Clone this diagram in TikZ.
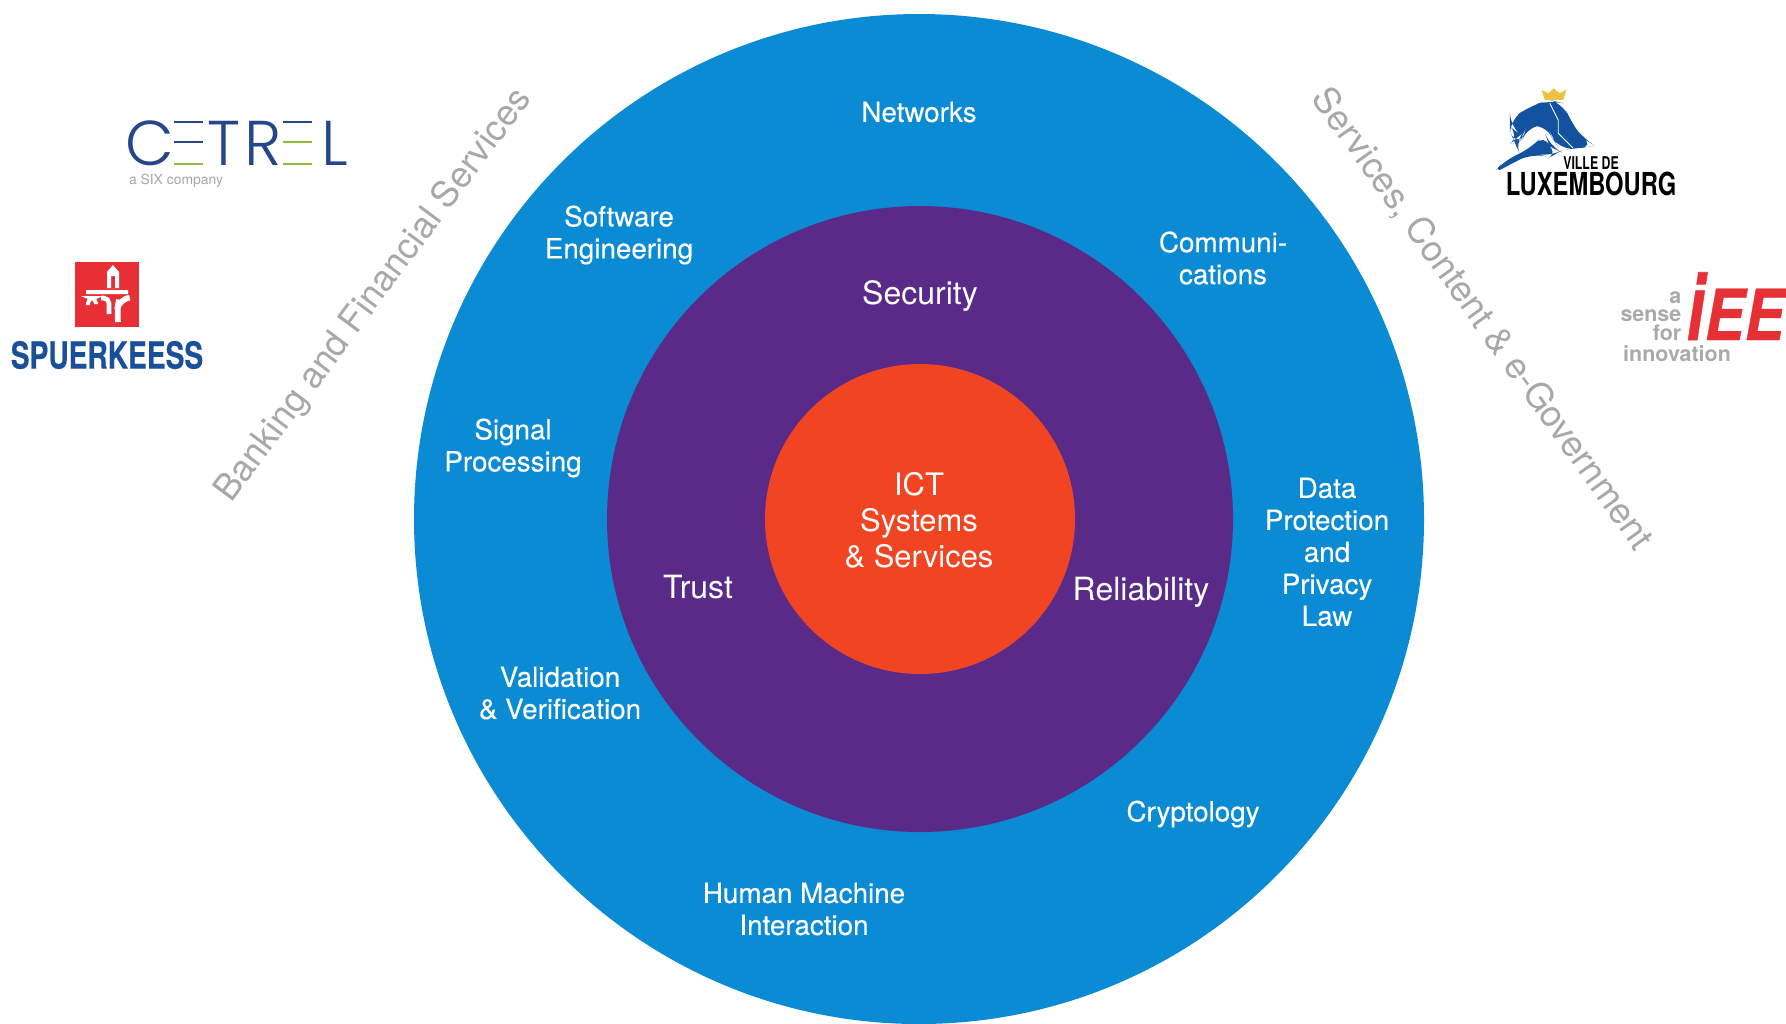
\documentclass[tikz,border=0pt]{standalone}
\usepackage{fontspec}
\setmainfont{TeX Gyre Heros}
\newfontfamily\logofont{Poppins Light}
\definecolor{ringblue}{HTML}{0A8BD4}
\definecolor{ringpurple}{HTML}{5A2A88}
\definecolor{corered}{HTML}{F04423}
\definecolor{sectorgray}{HTML}{A8A8A8}
\definecolor{cetrelblue}{HTML}{24468A}
\definecolor{cetrelgreen}{HTML}{8DBB3C}
\definecolor{logored}{HTML}{E63036}
\definecolor{logogray}{HTML}{A6ACA8}
\definecolor{spkblue}{HTML}{1A4F9C}
\definecolor{villeblue}{HTML}{12529F}
\definecolor{crowngold}{HTML}{F0C040}
\tikzset{
    topic/.style={text=white,align=center,font=\fontsize{7.9}{9.1}\selectfont\addfontfeatures{FakeBold=0.25}},
    pillar/.style={text=white,align=center,font=\fontsize{9.1}{10.3}\selectfont},
    sector/.style={text=sectorgray,font=\fontsize{10.25}{11}\selectfont},
    logotext/.style={inner sep=0pt,align=center},
    cetrelltr/.style={logotext,text=cetrelblue,font=\fontsize{18}{18}\logofont},
    cetrelbar/.style={line width=0.7pt}
}
\begin{document}
\begin{tikzpicture}[x=0.01cm,y=-0.01cm]
    \useasboundingbox (0,0) rectangle (1786,1023);
    \fill[ringblue] (919,519) circle[radius=505];
    \fill[ringpurple] (920,519) circle[radius=313];
    \fill[corered] (920,519) circle[radius=155];

    \node[pillar,font=\fontsize{8.8}{10.3}\selectfont] at (919,520) (CORE) {ICT\\Systems\\\& Services};
    \node[pillar] at (920,296) (SEC) {Security};
    \node[pillar] at (698,587) (TRUST) {Trust};
    \node[pillar] at (1141,592) (REL) {Reliability};

    \node[topic] at (919,112) (NET) {Networks};
    \node[topic] at (619,235) (SOFT) {Software\\Engineering};
    \node[topic] at (1223,258) (COMM) {Communi-\\cations};
    \node[topic] at (513,448) (SIG) {Signal\\Processing};
    \node[topic] at (1327,552) (DATA) {Data\\Protection\\and\\Privacy\\Law};
    \node[topic] at (560,693) (VAL) {Validation\\\& Verification};
    \node[topic] at (1193,814) (CRYPT) {Cryptology};
    \node[topic] at (804,909) (HMI) {Human Machine\\Interaction};

    \node[sector,rotate=53.4] at (374,296) (BANK) {Banking and Financial Services};
    \node[sector,rotate=-54.4] at (1482,319) (GOV) {Services, Content \& e-Government};

    % Cetrel
    \node[cetrelltr] at (150,143) (CETC) {C};
    \node[cetrelltr] at (224,143) (CETT) {T};
    \node[cetrelltr] at (263,143) (CETR) {R};
    \node[cetrelltr] at (335,143) (CETL) {L};
    \draw[cetrelbar,cetrelblue] (174,122) -- (203,122) (174,142) -- (203,142) (283,122) -- (312,122);
    \draw[cetrelbar,cetrelgreen] (174,164) -- (203,164) (283,142) -- (312,142) (283,164) -- (312,164);
    \node[logotext,text=gray!70,font=\fontsize{3.95}{4}\selectfont] at (176,181) (SIX) {a SIX company};

    % Spuerkeess
    \fill[logored] (75,262) rectangle (139,327);
    \fill[white,even odd rule] (86,290) rectangle (128,294)
        (107,288) -- (107,272) -- (113,265) -- (119,272) -- (119,288) -- cycle
        (111,288) rectangle (115,276);
    \draw[white,line width=1.1pt,rounded corners=1.5] (88,305) -- (88,298) -- (96,298) -- (96,304);
    \draw[white,line width=1.3pt,rounded corners=1.5] (101,298) -- (109,298) -- (109,314);
    \draw[white,line width=1.6pt,rounded corners=3] (127,298) -- (119,299) -- (117,310) -- (118,322);
    \node[logotext,text=spkblue,font=\fontsize{10.6}{11}\bfseries\selectfont\addfontfeatures{FakeBold=0.5}] at (107,355) (SPK) {\scalebox{0.755}[1]{SPUERKEESS}};

    % Ville de Luxembourg
    \begin{scope}[shift={(1450,70)},x=0.00333cm,y=-0.00333cm]
        \fill[crowngold] (275,60) -- (295,70) -- (312,55) -- (330,70) -- (350,58) -- (340,90) -- (285,90) -- cycle;
        \fill[villeblue,rounded corners=4] (180,150) -- (240,108) -- (300,90) -- (340,100) -- (365,160) -- (400,205) -- (435,228) -- (390,235) -- (330,240) -- (305,200) -- (292,165) -- (230,170) -- (222,195) -- (200,230) -- (192,212) -- (212,195) -- (180,170) -- cycle;
        \fill[villeblue,rounded corners=4] (125,315) -- (165,270) -- (240,238) -- (285,190) -- (300,230) -- (330,245) -- (300,262) -- (250,250) -- (190,278) -- cycle;
        \draw[white,line width=0.25pt] (300,100) -- (325,150) -- (325,190) -- (370,235);
    \end{scope}
    \node[logotext,font=\fontsize{5}{5}\bfseries\selectfont] at (1591,163) (VILLE) {\scalebox{0.7}[1]{VILLE DE}};
    \node[logotext,font=\fontsize{9}{9}\bfseries\selectfont] at (1591,184) (LUX) {\scalebox{0.75}[1]{LUXEMBOURG}};

    % IEE
    \node[logotext,anchor=base east,text=logored,font=\fontsize{20}{20}\bfseries\itshape\selectfont\addfontfeatures{FakeBold=0.6}] at (1785,340) (IEE) {\scalebox{0.85}[1]{\scalebox{1.1}[1.3]{i}EE}};
    \node[logotext,anchor=east,align=right,text=logogray,font=\fontsize{6.1}{5.3}\bfseries\selectfont] at (1682,316) (SENSE) {a\\sense\\for};
    \node[logotext,text=logogray,font=\fontsize{6.1}{6.1}\bfseries\selectfont] at (1677,354) (INNO) {innovation};
\end{tikzpicture}
\end{document}
